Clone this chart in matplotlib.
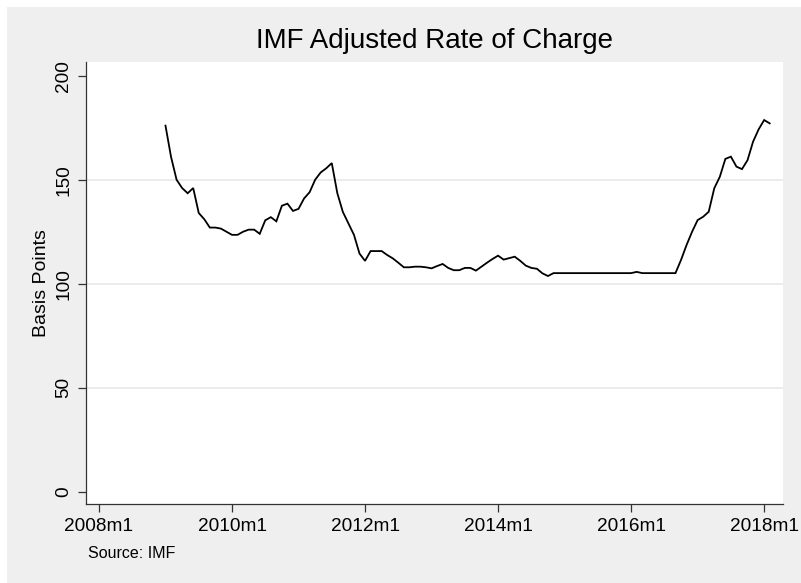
import numpy as np
import pandas as pd
import matplotlib
matplotlib.use('Agg')
import matplotlib.pyplot as plt
from matplotlib.patches import Rectangle

plt.rcParams['font.family'] = ['Liberation Sans', 'DejaVu Sans']

# monthly data, 2009m1 .. 2018m2
start_month = '2009-01'
end_month = '2018-02'
rate_bp = [176, 161, 150, 146, 143.5, 146, 134, 131, 127, 127, 126.5, 125,
           123.5, 123.5, 125, 126, 126, 124, 130.5, 132, 130, 137.5, 138.5, 135,
           136, 141, 144, 150, 153.5, 155.5, 158, 143.5, 134.5, 129, 123.5, 114.5,
           111, 115.7, 115.7, 115.7, 113.8, 112.2, 110.1, 107.9, 107.9, 108.2, 108.2, 107.9,
           107.4, 108.5, 109.5, 107.6, 106.5, 106.5, 107.6, 107.6, 106.3, 108.2, 110.1, 111.9,
           113.5, 111.6, 112.3, 113, 111, 108.7, 107.6, 107.2, 105, 103.7, 105.1, 105.1,
           105.1, 105.1, 105.1, 105.1, 105.1, 105.1, 105.1, 105.1, 105.1, 105.1, 105.1, 105.1,
           105.1, 105.7, 105.1, 105.1, 105.1, 105.1, 105.1, 105.1, 105.1, 111.4, 118.6, 125,
           130.6, 132.2, 134.6, 145.9, 151.4, 160, 161.1, 156.3, 155.1, 159.4, 168.3, 174.2,
           178.7, 177.1]

xtick_labels = ['2008m1', '2010m1', '2012m1', '2014m1', '2016m1', '2018m1']
yticks = [0, 50, 100, 150, 200]

# months counted from 2008m1 (like stata %tm)
periods = pd.period_range(start_month, end_month, freq='M')
months = np.array([(p.year - 2008) * 12 + (p.month - 1) for p in periods])
xticks = [(int(s[:4]) - 2008) * 12 for s in xtick_labels]

W, H = 801, 583
fig = plt.figure(figsize=(W / 100, H / 100), dpi=100)
fig.patch.set_facecolor('white')
fig.patches.append(Rectangle((7 / W, 0), 1, 1 - 7 / H, transform=fig.transFigure,
                             facecolor='#efefef', edgecolor='none', zorder=-10))

ax = fig.add_axes([86 / W, 1 - 504 / H, (783 - 86) / W, (504 - 62) / H])
ax.set_facecolor('white')
ax.plot(months, rate_bp, color='black', lw=1.3, solid_joinstyle='miter')

ax.set_xlim(-2.34, 123.4)
ax.set_ylim(-5.9, 206.6)
ax.set_xticks(xticks)
ax.set_xticklabels(xtick_labels)
ax.set_yticks(yticks)
ax.set_yticklabels([str(v) for v in yticks], rotation=90, va='center')

for v in [50, 100, 150]:
    ax.axhline(v, color='#e6e6e6', lw=1.1, zorder=0)

for s in ['top', 'right']:
    ax.spines[s].set_visible(False)
for s in ['left', 'bottom']:
    ax.spines[s].set_color('#333333')
    ax.spines[s].set_linewidth(0.9)
ax.tick_params(axis='both', length=6, width=0.9, color='#333333', labelsize=13.7, pad=4)
ax.set_ylabel('Basis Points', fontsize=14, labelpad=4)

fig.text(434 / W, 1 - 48.5 / H, 'IMF Adjusted Rate of Charge', fontsize=20,
         ha='center', va='baseline')
fig.text(88 / W, 1 - 558 / H, 'Source: IMF', fontsize=11.5, ha='left', va='baseline')

fig.savefig('out.png', dpi=100, facecolor=fig.get_facecolor())
